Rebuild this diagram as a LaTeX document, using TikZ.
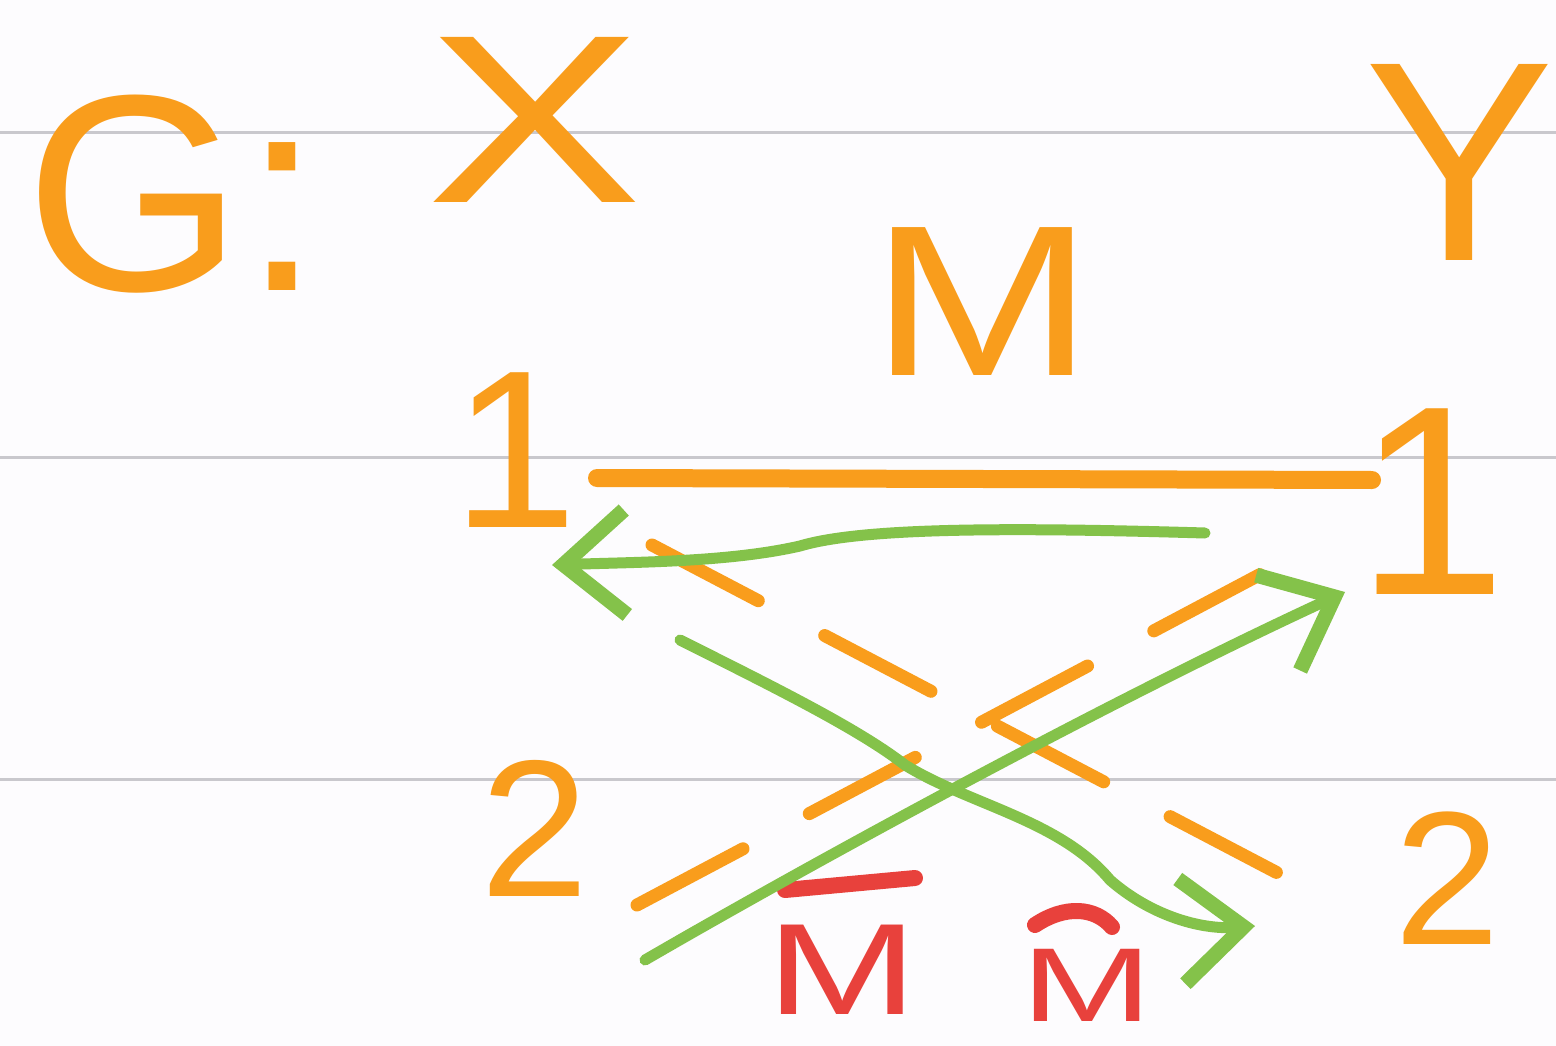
\documentclass[tikz,border=0pt]{standalone}
\usepackage{fontspec}
\setmainfont{Liberation Sans}
\usetikzlibrary{arrows.meta}
\definecolor{org}{HTML}{F99D1C}
\definecolor{grn}{HTML}{84C24A}
\definecolor{rd}{HTML}{E8413C}
\definecolor{rule}{HTML}{C9C8CD}
\definecolor{paper}{HTML}{FDFCFE}
\tikzset{
  lbl/.style={text=org, inner sep=0pt},
  redlbl/.style={text=rd, inner sep=0pt, font=\fontsize{130}{130}\selectfont},
  ruled/.style={draw=rule, line width=3pt},
  matched/.style={draw=org, line width=18pt, line cap=round},
  dashedge/.style={draw=org, line width=13pt, line cap=round, dash pattern={on 120pt off 75pt}},
  grarrow/.style={draw=grn, line width=11pt, line cap=round,
    -{Straight Barb[length=62pt,width=105pt,line width=15pt]}},
  bar/.style={draw=rd, line width=16pt, line cap=round}
}
\begin{document}
\begin{tikzpicture}[x=1pt,y=-1pt]
\useasboundingbox (0,0) rectangle (1556,1046);
\fill[paper] (0,0) rectangle (1556,1046);
% ruled lines
\draw[ruled] (0,133) -- (1556,133);
\draw[ruled] (0,457) -- (1556,457);
\draw[ruled] (0,779) -- (1556,779);
% labels
\node[lbl, anchor=base west, font=\fontsize{280}{280}\selectfont] (G) at (25,290) {G:};
\node[lbl, font=\fontsize{240}{240}\selectfont, xscale=1.35, transform shape] (X) at (535,120) {X};
\node[lbl, font=\fontsize{285}{285}\selectfont] (Y) at (1460,162) {Y};
\node[lbl, font=\fontsize{215}{215}\selectfont, xscale=1.25, transform shape] (M) at (982,302) {M};
% vertices
\node[lbl, font=\fontsize{225}{225}\selectfont] (X1) at (515,450) {1};
\node[lbl, font=\fontsize{270}{270}\selectfont] (Y1) at (1432,502) {1};
\node[lbl, font=\fontsize{195}{195}\selectfont] (X2) at (535,828) {2};
\node[lbl, font=\fontsize{190}{190}\selectfont] (Y2) at (1447,878) {2};
% edge anchor points
\coordinate (X1e) at (597,478);
\coordinate (Y1w) at (1372,480);
\coordinate (X1se) at (652,545);
\coordinate (Y2nw) at (1310,890);
\coordinate (X2ne) at (637,905);
\coordinate (Y1sw) at (1310,548);
% matching edge M
\draw[matched] (X1e) -- (Y1w);
% non-matching edges
\draw[dashedge] (X1se) -- (Y2nw);
\draw[dashedge] (X2ne) -- (Y1sw);
% red labels
\node[redlbl, xscale=1.4, transform shape] (Mb1) at (842,970) {M};
\node[redlbl, font=\fontsize{105}{105}\selectfont, xscale=1.5, transform shape] (Mb2) at (1087,985) {M};
\coordinate (b1a) at (785,890);
\coordinate (b1b) at (915,878);
\coordinate (b2a) at (1035,925);
\coordinate (b2b) at (1112,927);
\draw[bar] (b1a) -- (b1b);
\draw[bar] (b2a) .. controls (1065,905) and (1095,907) .. (b2b);
% green arrows
\coordinate (g1s) at (1205,533);
\coordinate (g1e) at (552,565);
\draw[grarrow] (g1s) .. controls (1000,527) and (860,528) .. (800,546)
  .. controls (730,562) and (640,562) .. (g1e);
\coordinate (g2s) at (680,640);
\coordinate (g2e) at (1255,926);
\draw[grarrow] (g2s) .. controls (780,690) and (860,730) .. (905,765)
  .. controls (970,805) and (1060,820) .. (1110,880)
  .. controls (1150,915) and (1200,930) .. (g2e);
\coordinate (g3s) at (645,960);
\coordinate (g3e) at (1345,592);
\draw[grarrow] (g3s) .. controls (800,870) and (1100,705) .. (g3e);
\end{tikzpicture}
\end{document}
